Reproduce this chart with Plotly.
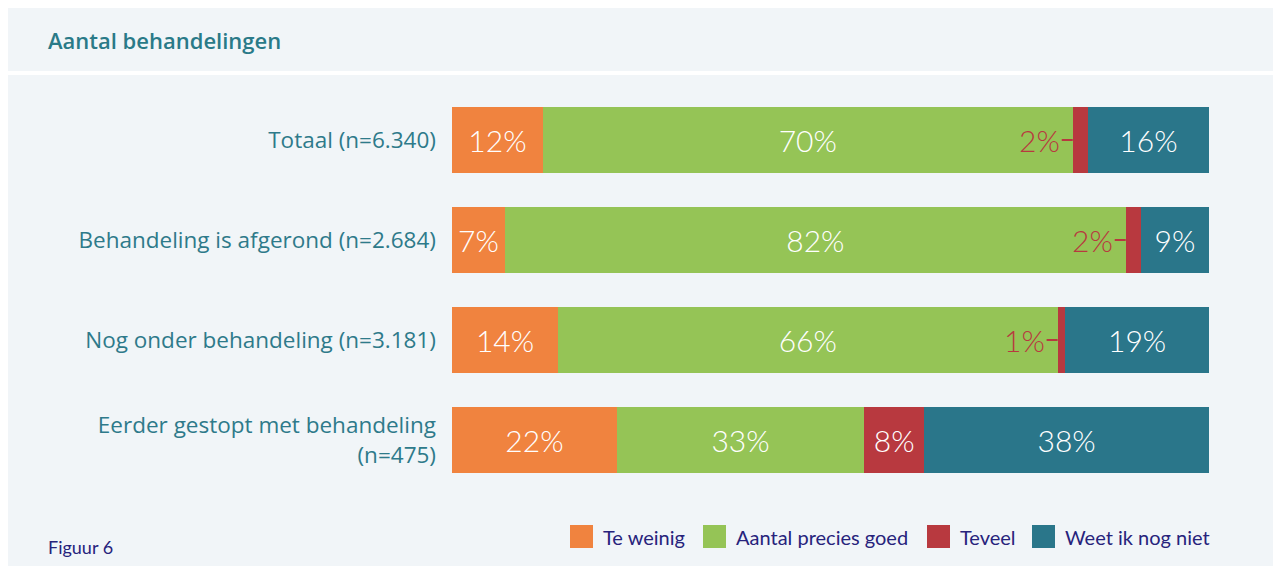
import plotly.graph_objects as go

categories = ["Totaal (n=6.340)", "Behandeling is afgerond (n=2.684)",
              "Nog onder behandeling (n=3.181)", "Eerder gestopt met behandeling<br>(n=475)"]
series_names = ["Te weinig", "Aantal precies goed", "Teveel", "Weet ik nog niet"]
te_weinig = [12, 7, 14, 22]
precies_goed = [70, 82, 66, 33]
teveel = [2, 2, 1, 8]
weet_niet = [16, 9, 19, 38]
colors = ["#f0833f", "#95c456", "#b8393f", "#2a768a"]
title = "Aantal behandelingen"
footer = "Figuur 6"

W, H = 1281, 566
L, R, T, B = 444, 1201, 82, 482  # plot area in figure px

def px_x(x):
    return (x - L) / (R - L)

def px_y(y):
    return (B - y) / (B - T)

# manual legend layout (figure px): left edge of each swatch
legend_swatch_x = [562, 695, 919, 1024]
SW = 23
legend_y = 528.5

series = [te_weinig, precies_goed, teveel, weet_niet]
fig = go.Figure()
for name, vals, col in zip(series_names, series, colors):
    txt = [f"{v}%" if v >= 5 else "" for v in vals]
    fig.add_trace(go.Bar(
        y=categories, x=vals, name=name, orientation="h",
        marker=dict(color=col, line=dict(width=0)),
        text=txt, textposition="inside", insidetextanchor="middle",
        textfont=dict(color="white", size=30, family="Lato Light, Lato", weight=300),
        hoverinfo="skip", showlegend=False,
    ))

annotations = []
for i, cat in enumerate(categories):
    totals = te_weinig[i] + precies_goed[i] + teveel[i] + weet_niet[i]
    if teveel[i] < 5:
        xpos = (te_weinig[i] + precies_goed[i]) / totals * 100
        annotations.append(dict(
            x=xpos, y=cat, xref="x", yref="y", text=f"{teveel[i]}%",
            showarrow=True, arrowhead=0, arrowwidth=2, arrowcolor=colors[2],
            ax=-33, ay=0, standoff=0,
            font=dict(color=colors[2], size=30, family="Lato Light, Lato", weight=300),
        ))

annotations.append(dict(
    x=px_x(38), y=px_y(32), xref="paper", yref="paper", text=title,
    showarrow=False, xanchor="left", yanchor="middle",
    font=dict(color="#2a7a88", size=22, family="Open Sans", weight=600),
))
annotations.append(dict(
    x=px_x(38), y=px_y(539), xref="paper", yref="paper", text=footer,
    showarrow=False, xanchor="left", yanchor="middle",
    font=dict(color="#27237c", size=18, family="Lato"),
))

shapes = [
    dict(type="rect", xref="paper", yref="paper", layer="below",
         x0=px_x(-5), x1=px_x(1300), y0=px_y(63), y1=px_y(67),
         fillcolor="white", line=dict(width=0)),
]

for name, col, sx in zip(series_names, colors, legend_swatch_x):
    shapes.append(dict(
        type="rect", xref="paper", yref="paper",
        x0=px_x(sx), x1=px_x(sx + SW),
        y0=px_y(legend_y + SW / 2), y1=px_y(legend_y - SW / 2),
        fillcolor=col, line=dict(width=0),
    ))
    annotations.append(dict(
        x=px_x(sx + SW + 8), y=px_y(legend_y), xref="paper", yref="paper",
        text=name, showarrow=False, xanchor="left", yanchor="middle",
        font=dict(color="#27237c", size=20, family="Lato"),
    ))

fig.update_layout(
    width=W, height=H, barmode="stack", barnorm="percent", bargap=0.34,
    margin=dict(l=L, r=W - R, t=T, b=H - B, pad=0),
    paper_bgcolor="#f1f5f8", plot_bgcolor="rgba(0,0,0,0)",
    showlegend=False,
    xaxis=dict(range=[0, 100], visible=False, fixedrange=True),
    yaxis=dict(categoryorder="array", categoryarray=categories, autorange="reversed",
               showgrid=False, zeroline=False, showline=False, ticks="",
               ticklabelstandoff=15,
               tickfont=dict(color="#2e7a8a", size=22.5, family="Open Sans")),
    annotations=annotations, shapes=shapes,
    uniformtext=dict(mode=False),
)

fig.write_html("out.html")
